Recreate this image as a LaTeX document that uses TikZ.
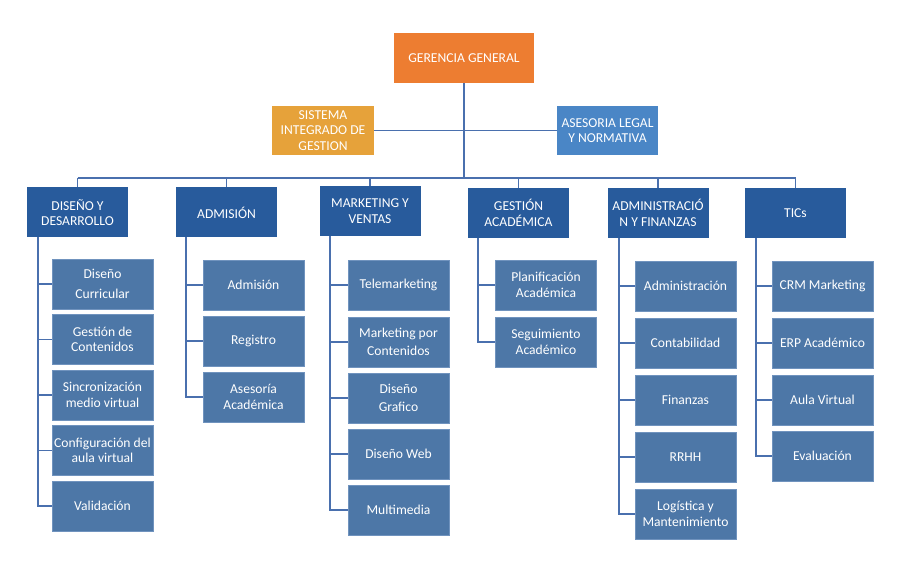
\documentclass[tikz,border=0pt]{standalone}
\usepackage{fontspec}
\setmainfont{Carlito}
\definecolor{cOrange}{HTML}{ED7D31}
\definecolor{cGold}{HTML}{E6A23A}
\definecolor{cLight}{HTML}{4A86C6}
\definecolor{cDark}{HTML}{285B9C}
\definecolor{cMid}{HTML}{4D77A7}
\definecolor{cEdge}{HTML}{7093BE}
\definecolor{cLine}{HTML}{4A70AE}
\tikzset{
  boxbase/.style={rectangle, text=white, align=center, inner sep=0pt,
    font=\fontsize{13.6}{15.5}\selectfont},
  topbox/.style={boxbase, fill=cOrange, minimum width=140pt, minimum height=50pt},
  staffgold/.style={boxbase, fill=cGold, minimum width=102pt, minimum height=49pt},
  stafflight/.style={boxbase, fill=cLight, minimum width=101pt, minimum height=49pt},
  deptbox/.style={boxbase, fill=cDark, minimum width=101pt, minimum height=50pt},
  unitbox/.style={boxbase, fill=cMid, draw=cEdge, line width=0.8pt, minimum width=101pt, minimum height=50pt},
  link/.style={draw=cLine, line width=1.8pt}
}
\begin{document}
\begin{tikzpicture}[x=1pt,y=-1pt]
\useasboundingbox (0,0) rectangle (900,580);
% top
\node[topbox] (gg) at (464,58) {GERENCIA GENERAL};
\node[staffgold] (sig) at (323,130.5) {SISTEMA\\INTEGRADO DE\\GESTION};
\node[stafflight] (ase) at (607.5,130.5) {ASESORIA LEGAL\\Y NORMATIVA};
% departments
\node[deptbox] (d1) at (77.5,212.5) {DISEÑO Y\\DESARROLLO};
\node[deptbox] (d2) at (226.5,212.5) {ADMISIÓN};
\node[deptbox] (d3) at (370,211) {MARKETING Y\\VENTAS};
\node[deptbox] (d4) at (518.5,213) {GESTIÓN\\ACADÉMICA};
\node[deptbox] (d5) at (658,213) {ADMINISTRACIÓ\\N Y FINANZAS};
\node[deptbox] (d6) at (795.5,213) {TICs};
% bus
\coordinate (bus) at (464,178);
\draw[link] (gg.south) -- (bus);
\draw[link] (sig.east) -- (ase.west);
\draw[link] (d1.north |- bus) -- (d6.north |- bus);
\foreach \d in {d1,d2,d3,d4,d5,d6} \draw[link] (\d.north |- bus) -- (\d.north);
% Diseño children
\node[unitbox] (a1) at (102.5,284) {Diseño\\[5pt]Curricular};
\node[unitbox] (a2) at (102.5,339.5) {Gestión de\\Contenidos};
\node[unitbox] (a3) at (102.5,395) {Sincronización\\medio virtual};
\node[unitbox] (a4) at (102.5,450.5) {Configuración del\\aula virtual};
\node[unitbox] (a5) at (102.5,506) {Validación};
% Admisión children
\node[unitbox] (b1) at (253.5,285) {Admisión};
\node[unitbox] (b2) at (253.5,341) {Registro};
\node[unitbox] (b3) at (253.5,397) {Asesoría\\Académica};
% Marketing children
\node[unitbox] (m1) at (398.5,285) {Telemarketing};
\node[unitbox] (m2) at (398.5,342) {Marketing por\\[3pt]Contenidos};
\node[unitbox] (m3) at (398.5,398) {Diseño\\[3pt]Grafico};
\node[unitbox] (m4) at (398.5,454) {Diseño Web};
\node[unitbox] (m5) at (398.5,510) {Multimedia};
% Gestión children
\node[unitbox] (g1) at (546,285) {Planificación\\Académica};
\node[unitbox] (g2) at (546,342) {Seguimiento\\Académico};
% Admin children
\node[unitbox] (f1) at (685.5,286) {Administración};
\node[unitbox] (f2) at (685.5,343) {Contabilidad};
\node[unitbox] (f3) at (685.5,400) {Finanzas};
\node[unitbox] (f4) at (685.5,457) {RRHH};
\node[unitbox] (f5) at (685.5,514) {Logística y\\Mantenimiento};
% TICs children
\node[unitbox] (t1) at (822.5,286) {CRM Marketing};
\node[unitbox] (t2) at (822.5,343) {ERP Académico};
\node[unitbox] (t3) at (822.5,400) {Aula Virtual};
\node[unitbox] (t4) at (822.5,456) {Evaluación};
% child connectors
\coordinate (la) at (38,237);
\coordinate (lb) at (186,237);
\coordinate (lm) at (330,236);
\coordinate (lg) at (478,238);
\coordinate (lf) at (619,238);
\coordinate (lt) at (756,238);
\draw[link] (la) |- (a5.west);
\foreach \c in {a1,a2,a3,a4} \draw[link] (la |- \c.west) -- (\c.west);
\draw[link] (lb) |- (b3.west);
\foreach \c in {b1,b2} \draw[link] (lb |- \c.west) -- (\c.west);
\draw[link] (lm) |- (m5.west);
\foreach \c in {m1,m2,m3,m4} \draw[link] (lm |- \c.west) -- (\c.west);
\draw[link] (lg) |- (g2.west);
\draw[link] (lg |- g1.west) -- (g1.west);
\draw[link] (lf) |- (f5.west);
\foreach \c in {f1,f2,f3,f4} \draw[link] (lf |- \c.west) -- (\c.west);
\draw[link] (lt) |- (t4.west);
\foreach \c in {t1,t2,t3} \draw[link] (lt |- \c.west) -- (\c.west);
\end{tikzpicture}
\end{document}
